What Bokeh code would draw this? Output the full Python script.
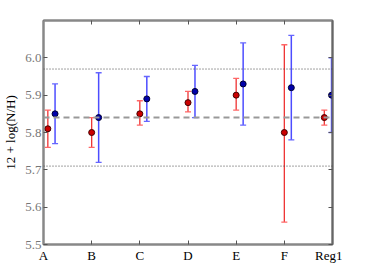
from bokeh.plotting import figure
from bokeh.models import (ColumnDataSource, Whisker, TeeHead, FixedTicker, LinearAxis,
                          Range1d, Span, PrintfTickFormatter)
from bokeh.embed import file_html
from bokeh.resources import INLINE

categories = ["A", "B", "C", "D", "E", "F", "Reg1"]

red_val = [5.81, 5.80, 5.85, 5.88, 5.90, 5.80, 5.84]
red_lo = [5.76, 5.76, 5.82, 5.855, 5.86, 5.56, 5.82]
red_hi = [5.86, 5.84, 5.885, 5.91, 5.945, 6.035, 5.86]

blue_val = [5.85, 5.84, 5.89, 5.91, 5.93, 5.92, 5.90]
blue_lo = [5.77, 5.72, 5.83, 5.84, 5.82, 5.78, 5.80]
blue_hi = [5.93, 5.96, 5.95, 5.98, 6.04, 6.06, 6.00]

mean_line = 5.84
band_lines = [5.97, 5.71]
y_ticks = [5.5, 5.6, 5.7, 5.8, 5.9, 6.0]

# layout offsets (horizontal placement of the two series about each category)
red_off = [0.09, 0.0, 0.0, 0.0, 0.0, 0.0, -0.17]
blue_off = [0.24, 0.145, 0.145, 0.145, 0.145, 0.145, -0.02]

idx = list(range(len(categories)))
rx = [i + o for i, o in zip(idx, red_off)]
bx = [i + o for i, o in zip(idx, blue_off)]

FONT = "'Liberation Serif', serif"

p = figure(frame_width=289, frame_height=224, output_backend="svg", toolbar_location=None,
           x_range=Range1d(0, 6), y_range=Range1d(5.5, 6.1),
           min_border_left=39, min_border_right=10, min_border_top=20,
           min_border_bottom=10)
p.background_fill_color = "white"
p.border_fill_color = "white"
p.outline_line_color = "#888888"
p.outline_line_width = 2
p.xgrid.visible = False
p.ygrid.visible = False

# axes
p.xaxis.ticker = FixedTicker(ticks=idx)
p.xaxis.major_label_overrides = {i: c for i, c in zip(idx, categories)}
p.yaxis.ticker = FixedTicker(ticks=y_ticks)
p.yaxis.formatter = PrintfTickFormatter(format="%.1f")
p.yaxis.axis_label = "12 + log(N/H)"
for ax in (p.xaxis[0], p.yaxis[0]):
    ax.axis_line_color = "#888888"
    ax.axis_line_width = 2
    ax.major_tick_in = 4
    ax.major_tick_out = 0
    ax.major_tick_line_color = "#555555"
    ax.minor_tick_line_color = None
    ax.major_label_text_font = FONT
    ax.major_label_text_font_size = "13px"
    ax.major_label_standoff = 3
p.xaxis.major_label_text_color = "black"
p.yaxis.major_label_text_color = "#777777"
p.yaxis.major_label_standoff = 2
p.yaxis.axis_label_text_font = FONT
p.yaxis.axis_label_text_font_size = "13px"
p.yaxis.axis_label_text_font_style = "normal"
p.yaxis.axis_label_text_color = "black"
p.yaxis.axis_label_standoff = 4

right = LinearAxis(ticker=FixedTicker(ticks=y_ticks), major_label_text_color=None,
                   axis_line_color="#666666", axis_line_width=2, major_tick_in=4,
                   major_tick_out=0, minor_tick_line_color=None,
                   major_tick_line_color="#555555", major_label_standoff=0)
p.add_layout(right, "right")
top = LinearAxis(ticker=FixedTicker(ticks=idx), major_label_text_color=None,
                 axis_line_color="#888888", axis_line_width=2, major_tick_in=4,
                 major_tick_out=0, minor_tick_line_color=None,
                 major_tick_line_color="#555555", major_label_standoff=0)
p.add_layout(top, "above")

# reference lines
p.add_layout(Span(location=mean_line, dimension="width", line_color="#999999",
                  line_width=2, line_dash="6 4"))
for b in band_lines:
    p.add_layout(Span(location=b, dimension="width", line_color="#444444",
                      line_width=1, line_dash="1 2"))

rsrc = ColumnDataSource(dict(x=rx, y=red_val, lo=red_lo, hi=red_hi))
bsrc = ColumnDataSource(dict(x=bx, y=blue_val, lo=blue_lo, hi=blue_hi))

p.add_layout(Whisker(source=rsrc, base="x", lower="lo", upper="hi",
                     line_color="#ee3333", line_width=1.3,
                     upper_head=TeeHead(size=6, line_color="#ff6666", line_width=1.3),
                     lower_head=TeeHead(size=6, line_color="#ff6666", line_width=1.3)))
p.add_layout(Whisker(source=bsrc, base="x", lower="lo", upper="hi",
                     line_color="#4d4dff", line_width=1.5,
                     upper_head=TeeHead(size=6, line_color="#6666ff", line_width=1.3),
                     lower_head=TeeHead(size=6, line_color="#6666ff", line_width=1.3)))

p.scatter("x", "y", source=rsrc, size=6, fill_color="#cc0000", line_color="#440000",
          line_width=1)
p.scatter("x", "y", source=bsrc, size=6, fill_color="#0000aa", line_color="#000033",
          line_width=1)

open("out.html", "w").write(file_html(p, INLINE))
